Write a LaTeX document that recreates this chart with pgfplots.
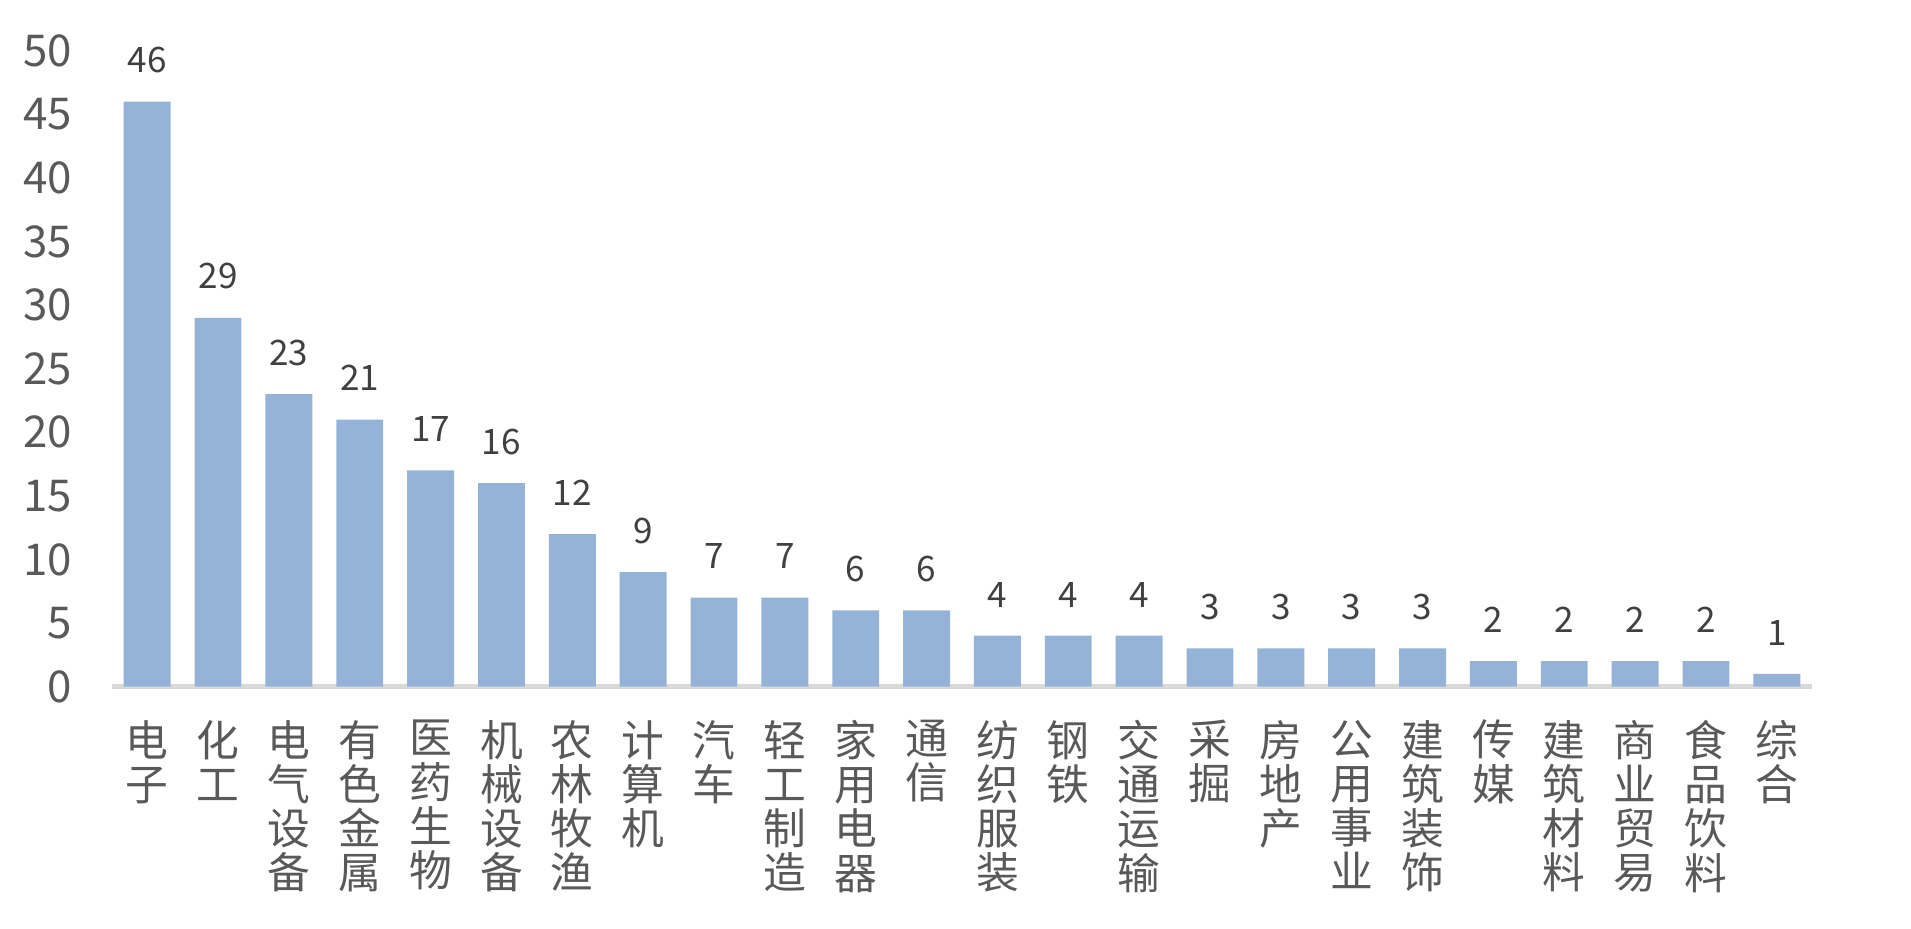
\documentclass[border=0pt]{standalone}
\usepackage{fontspec}
\setmainfont{Noto Sans CJK SC}
\usepackage{pgfplots}
\pgfplotsset{compat=1.18}
\definecolor{barblue}{HTML}{95B3D7}
\definecolor{axisgray}{HTML}{D9D9D9}
\definecolor{ticktext}{HTML}{595959}
\definecolor{labeltext}{HTML}{404040}
\begin{document}
\begin{tikzpicture}
\begin{axis}[
    scale only axis,
    width=170.4mm, height=63.7mm,
    ymin=0, ymax=50,
    xmin=-0.5, xmax=23.5,
    ytick={0,5,...,50},
    xtick=data,
    xticklabels={电\\子,化\\工,电\\气\\设\\备,有\\色\\金\\属,医\\药\\生\\物,机\\械\\设\\备,农\\林\\牧\\渔,计\\算\\机,汽\\车,轻\\工\\制\\造,家\\用\\电\\器,通\\信,纺\\织\\服\\装,钢\\铁,交\\通\\运\\输,采\\掘,房\\地\\产,公\\用\\事\\业,建\\筑\\装\\饰,传\\媒,建\\筑\\材\\料,商\\业\\贸\\易,食\\品\\饮\\料,综\\合},
    axis x line=bottom, axis y line=left,
    x axis line style={axisgray, line width=1.2pt, -},
    y axis line style={draw=none},
    major tick length=0pt,
    /pgf/number format/assume math mode=true,
    yticklabel style={font=\fontsize{12.5}{14}\selectfont, text=ticktext, anchor=east, inner sep=0pt, xshift=-3.9mm},
    xticklabel style={font=\fontsize{12.2}{12.6}\selectfont, text=ticktext, align=center, anchor=north, inner sep=0pt, yshift=-3.3mm},
    ybar, bar width=4.7mm,
    nodes near coords,
    every node near coord/.append style={font=\fontsize{10}{12}\selectfont, text=labeltext, inner sep=0pt, yshift=2.8mm},
    clip=false,
]
\addplot[fill=barblue, draw=none] coordinates {
(0,46) (1,29) (2,23) (3,21) (4,17) (5,16) (6,12) (7,9) (8,7) (9,7) (10,6) (11,6)
(12,4) (13,4) (14,4) (15,3) (16,3) (17,3) (18,3) (19,2) (20,2) (21,2) (22,2) (23,1)
};
\end{axis}
\path ([xshift=-11.2mm, yshift=-24.2mm]current axis.south west) rectangle ([xshift=9.9mm, yshift=5.1mm]current axis.north east);
\end{tikzpicture}
\end{document}
